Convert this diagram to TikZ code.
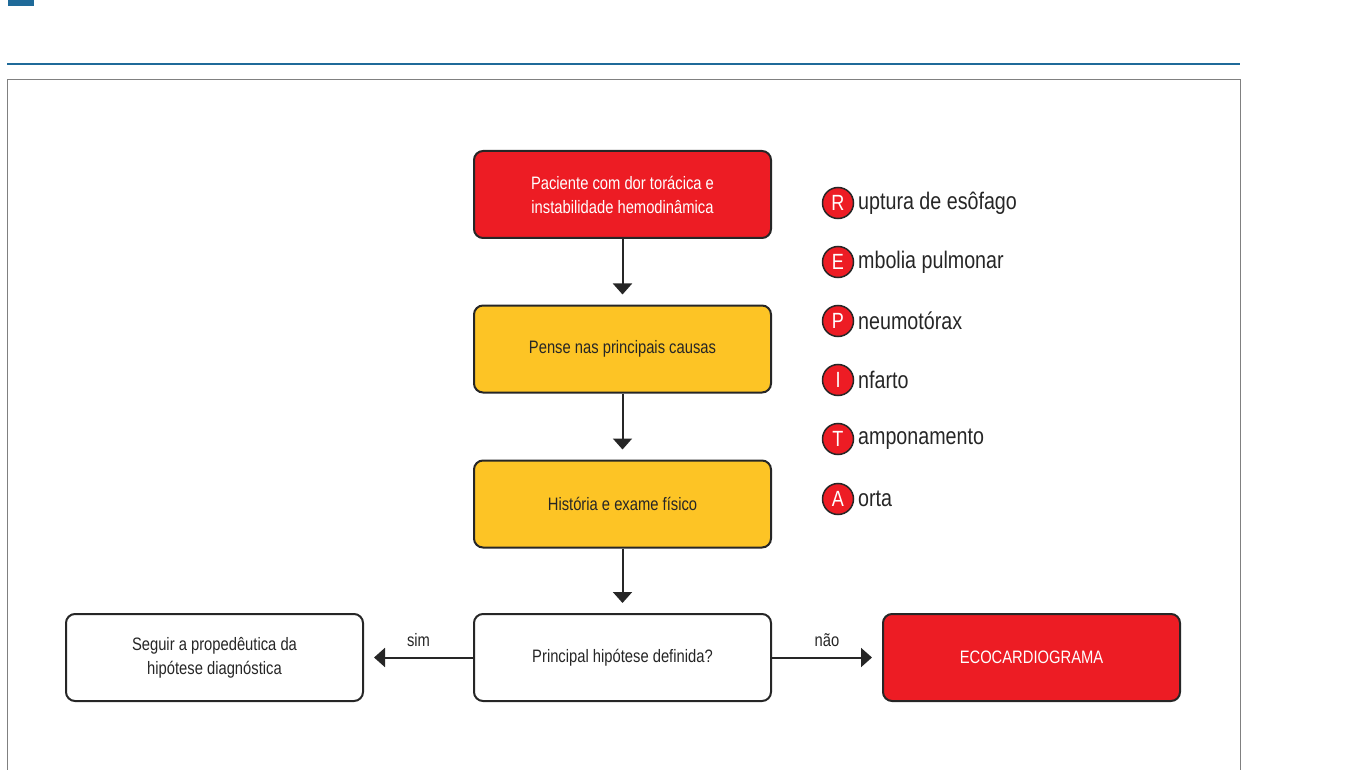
\documentclass[tikz,border=0pt]{standalone}
\usepackage{fontspec}
\setmainfont{Liberation Sans}[FakeStretch=0.82]
\usetikzlibrary{arrows.meta}
\definecolor{rd}{HTML}{ED1C24}
\definecolor{yl}{HTML}{FDC425}
\definecolor{bl}{HTML}{1F6A99}
\begin{document}
\begin{tikzpicture}[x=1pt,y=-1pt,
 box/.style={draw=black!85,line width=2pt,rounded corners=9pt,minimum width=297pt,minimum height=87pt,align=center,font=\fontsize{18}{24}\selectfont,text=black!85},
 arr/.style={line width=2pt,draw=black!85,-{Triangle[length=11pt,width=19pt]},shorten >=10pt},
 let/.style={circle,fill=rd,draw=black!85,line width=1.5pt,minimum size=31pt,inner sep=0pt,text=white,font=\fontsize{22}{22}\selectfont},
 itm/.style={anchor=west,font=\fontsize{24}{24}\selectfont,text=black!85,inner sep=0pt}]
\useasboundingbox (0,0) rectangle (1350,770);
\fill[bl] (8,0) rectangle (34,6);
\draw[bl,line width=2pt] (7,64) -- (1240,64);
\draw[black!50,line width=1pt] (7,80) -- (1240,80) -- (1240,772) (7,80) -- (7,772);
\node[box,fill=rd,text=white] (a) at (622.5,194.5) {Paciente com dor torácica e\\instabilidade hemodinâmica};
\node[box,fill=yl] (b) at (622.5,349) {Pense nas principais causas};
\node[box,fill=yl] (c) at (622.5,504) {História e exame físico};
\node[box,fill=white] (d) at (622.5,657.5) {Principal hipótese definida?};
\node[box,fill=white] (e) at (214.5,657.5) {Seguir a propedêutica da\\hipótese diagnóstica};
\node[box,fill=rd,text=white] (f) at (1031.5,657.5) {ECOCARDIOGRAMA};
\draw[arr] (a) -- (b);
\draw[arr] (b) -- (c);
\draw[arr] (c) -- (d);
\draw[arr] (d) -- node[above=6pt,font=\fontsize{18}{18}\selectfont,text=black!85]{sim} (e);
\draw[arr] (d) -- node[above=6pt,font=\fontsize{18}{18}\selectfont,text=black!85]{não} (f);
\foreach \y/\l/\t [count=\i] in {203/R/uptura de esôfago,262/E/mbolia pulmonar,321/P/neumotórax,380/I/nfarto,439/T/amponamento,499/A/orta}{
 \node[let] (l\i) at (838,\y) {\l};
 \node[itm] (t\i) at (858,\y) {\t};
}
\end{tikzpicture}
\end{document}
